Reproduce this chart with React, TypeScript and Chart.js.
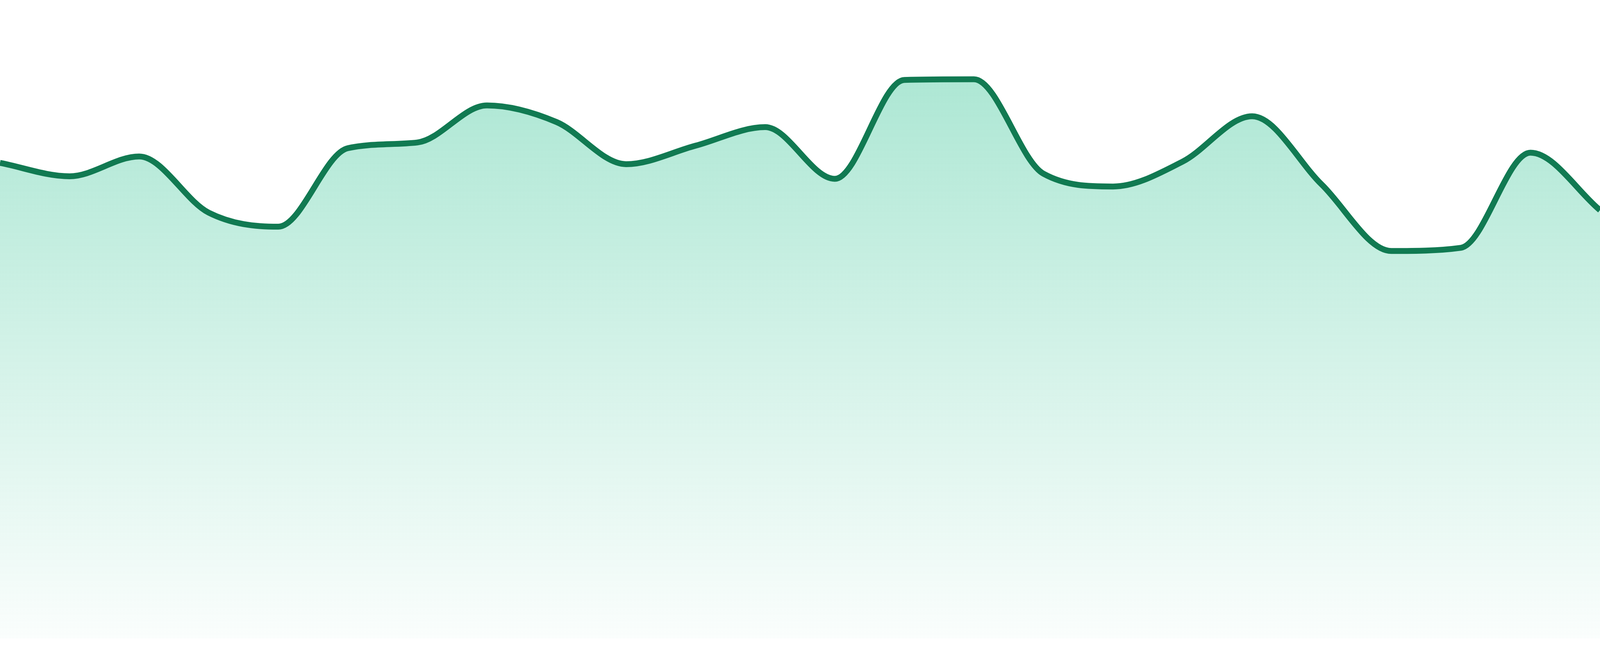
import React, { useEffect, useRef } from 'react';
import Chart from 'chart.js/auto';

// hourly readings, one per point on the line
const hours = [
  '00:00', '01:00', '02:00', '03:00', '04:00', '05:00', '06:00', '07:00',
  '08:00', '09:00', '10:00', '11:00', '12:00', '13:00', '14:00', '15:00',
  '16:00', '17:00', '18:00', '19:00', '20:00', '21:00', '22:00', '23:00',
];
const readings = [
  74.5, 72.4, 75.5, 66.7, 64.5, 76.8, 77.7, 83.5,
  80.9, 74.3, 77.2, 80.1, 72.0, 87.5, 87.6, 72.8,
  70.8, 74.7, 81.8, 71.1, 60.7, 61.2, 76.1, 67.1,
];
// the axis stops at the highest reading
const yMin = 0;
const yMax = 87.6;

const lineColor = '#117a52';

export default function App() {
  const canvasRef = useRef<HTMLCanvasElement>(null);
  const chartRef = useRef<Chart | null>(null);

  useEffect(() => {
    document.body.style.margin = '0';
    if (!canvasRef.current) return;
    if (chartRef.current) chartRef.current.destroy();

    chartRef.current = new Chart(canvasRef.current, {
      type: 'line',
      data: {
        labels: hours,
        datasets: [
          {
            data: readings,
            borderColor: lineColor,
            borderWidth: 15,
            cubicInterpolationMode: 'monotone',
            pointRadius: 0,
            clip: 20,
            fill: 'start',
            backgroundColor: (ctx: any) => {
              const area = ctx.chart.chartArea;
              if (!area) return 'rgba(16,185,129,0.2)';
              const g = ctx.chart.ctx.createLinearGradient(0, area.top, 0, area.bottom);
              g.addColorStop(0, 'rgba(16,185,129,0.34)');
              g.addColorStop(1, 'rgba(16,185,129,0.02)');
              return g;
            },
          },
        ],
      },
      options: {
        animation: false,
        responsive: true,
        maintainAspectRatio: false,
        devicePixelRatio: 1,
        layout: { padding: { top: 203, left: 0, right: 0, bottom: 45 } },
        plugins: { legend: { display: false }, tooltip: { enabled: false } },
        scales: {
          x: { display: false },
          y: { display: false, min: yMin, max: yMax },
        },
      },
    });

    return () => chartRef.current?.destroy();
  }, []);

  return (
    <div style={{ position: 'relative', width: '100%', height: '1680px', background: '#fff' }}>
      <canvas ref={canvasRef} />
    </div>
  );
}
